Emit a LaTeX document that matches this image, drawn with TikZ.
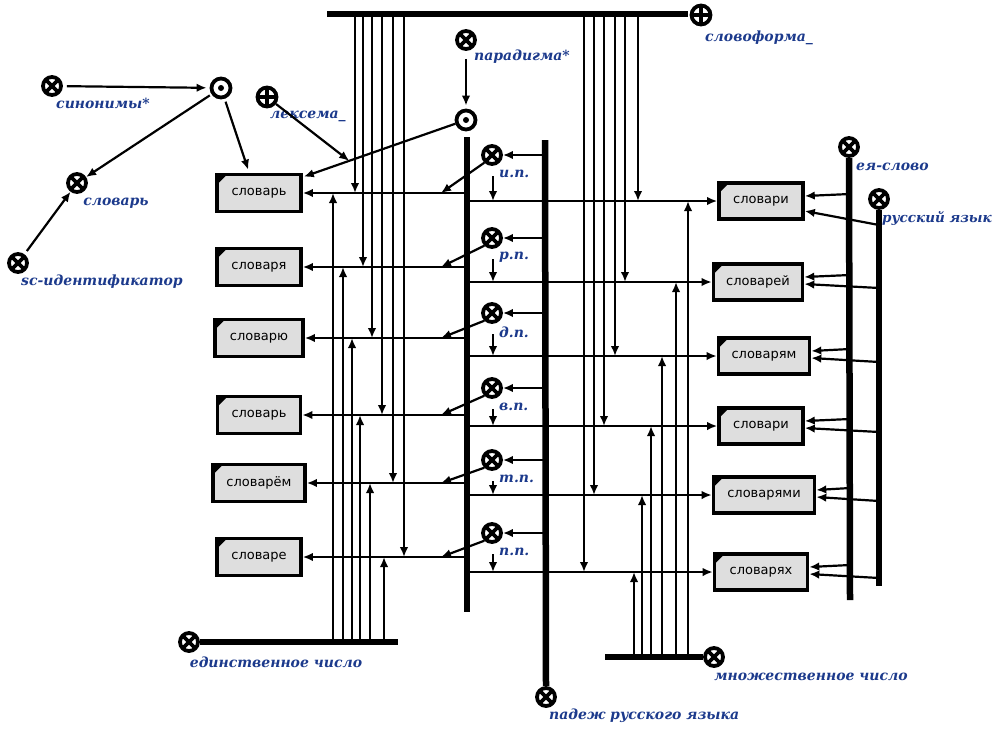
\documentclass[tikz,border=0pt]{standalone}
\usepackage{fontspec}
\setmainfont{DejaVu Sans}
\newfontfamily\lblfont{DejaVu Serif}
\usetikzlibrary{arrows.meta,calc}
\definecolor{lblblue}{RGB}{28,58,140}
\definecolor{boxgray}{RGB}{222,222,222}
\tikzset{
  bar/.style={line width=5.5pt},
  arr/.style={line width=2.2pt,-{Latex[length=10pt,width=8.5pt]}},
  vnode/.style={circle,draw,line width=3.8pt,fill=white,minimum size=18pt,inner sep=0pt,
    path picture={\draw[black,line width=3.6pt] (path picture bounding box.north west)--(path picture bounding box.south east)
      (path picture bounding box.north east)--(path picture bounding box.south west);}},
  dnode/.style={circle,draw,line width=3.8pt,fill=white,minimum size=19pt,inner sep=0pt,
    path picture={\fill[black] (path picture bounding box.center) circle (3pt);}},
  pnode/.style={circle,draw,line width=3.8pt,fill=white,minimum size=19pt,inner sep=0pt,
    path picture={\draw[black,line width=3.2pt] (path picture bounding box.north)--(path picture bounding box.south)
      (path picture bounding box.east)--(path picture bounding box.west);}},
  lbl/.style={text=lblblue,font=\lblfont\bfseries\itshape\fontsize{14}{16}\selectfont,inner sep=0pt},
  wbox/.style={draw,line width=3.6pt,fill=boxgray,inner sep=0pt,font=\fontsize{13}{15}\selectfont,
    path picture={\fill[black] (path picture bounding box.north west) -- ++(10pt,0pt) -- ++(-10pt,-10pt) -- cycle;}}
}
\begin{document}
\begin{tikzpicture}[x=1pt,y=-1pt]
\useasboundingbox (0,0) rectangle (995,729);
% ---------- left cluster
\node[vnode] (syn) at (52,86) {};
\node[lbl] (synl) at (103,103) {синонимы*};
\node[dnode] (dot1) at (221,88) {};
\node[pnode] (lex) at (267,97) {};
\node[lbl,anchor=west] (lexl) at (270,116) {лексема\_};
\node[vnode] (slov) at (77,183) {};
\node[lbl] (slovl) at (116,203) {словарь};
\node[vnode] (scid) at (18,263) {};
\node[lbl] (scidl) at (102,282) {sc-идентификатор};
% ---------- top
\node[vnode] (par) at (466,40) {};
\node[lbl,anchor=west] (parl) at (474,57) {парадигма*};
\node[dnode] (dot2) at (466,120) {};
\node[pnode] (slf) at (701,15) {};
\node[lbl,anchor=west] (slfl) at (705,38) {словоформа\_};
\coordinate (tbL) at (327,14);
\coordinate (tbR) at (688,14);
% ---------- bars
\coordinate (cbT) at (467,137);
\coordinate (cbB) at (467,612);
\coordinate (pbT) at (545,140);
\node[vnode] (pad) at (546,697) {};
\node[lbl,anchor=west] (padl) at (549,716) {падеж русского языка};
\node[vnode] (ed) at (189,642) {};
\node[lbl] (edl) at (276,662) {единственное число};
\coordinate (ebR) at (398,642);
\node[vnode] (mn) at (714,657) {};
\node[lbl] (mnl) at (811,677) {множественное число};
\coordinate (mbL) at (605,657);
\node[vnode] (eya) at (849,147) {};
\node[lbl,anchor=west] (eyal) at (856,167) {ея-слово};
\coordinate (eyaB) at (850,600);
\node[vnode] (rus) at (879,199) {};
\node[lbl,anchor=west,font=\lblfont\bfseries\itshape\fontsize{13.5}{16}\selectfont] (rusl) at (882,218) {русский язык};
\coordinate (rusB) at (879,586);
\draw[bar] (tbL) -- (tbR);
\draw[bar,line width=6.5pt] (cbT) -- (cbB);
\draw[bar,line width=6.5pt] (pbT) -- (pad.north);
\draw[bar] (ed.east) -- (ebR);
\draw[bar] (mbL) -- (mn.west);
\draw[bar,line width=6.5pt] (eya.south) -- (eyaB);
\draw[bar,line width=6pt] (rus.south) -- (rusB);
% ---------- boxes
\foreach \i/\y/\w/\t in {1/193/84/словарь,2/267/84/словаря,3/338/88/словарю,4/415/83/словарь,5/483/92/словарём,6/557/84/словаре}
  \node[wbox,minimum width=\w pt,minimum height=37pt] (S\i) at (259,\y) {\t};
\foreach \i/\x/\y/\w/\t in {1/761/201/84/словари,2/758/282/89/словарей,3/764/356/91/словарям,4/761/426/84/словари,5/764/495/101/словарями,6/761/572/93/словарях}
  \node[wbox,minimum width=\w pt,minimum height=36pt] (P\i) at (\x,\y) {\t};
% ---------- case nodes
\foreach \i/\y/\t in {1/155/и.п.,2/238/р.п.,3/313/д.п.,4/388/в.п.,5/460/т.п.,6/533/п.п.}{
  \node[vnode] (C\i) at (492,\y) {};
  \node[lbl,anchor=west] (C\i l) at (499,\y+19) {\t};
  \coordinate (cd\i) at (493,\y+21);
}
% ---------- row connectors
\foreach \i in {1,...,6}{
  \draw[arr] (S\i.east -| cbT) -- (S\i.east);
  \draw[arr] (P\i.west -| cbT) -- (P\i.west);
  \draw[arr] (C\i -| pbT) -- (C\i.east);
  \draw[arr] (C\i.south west) -- ($(S\i.east -| cbT)+(-26,0)$);
  \draw[arr] (cd\i) -- (cd\i |- P\i.west);
}
% vertical lines from top bar and number bars
\foreach \i/\x in {1/355,2/363,3/372,4/382,5/393,6/404}
  \draw[arr] (\x,0 |- tbL) -- (\x,0 |- S\i.east);
\foreach \i/\x in {1/333,2/343,3/352,4/360,5/370,6/384}
  \draw[arr] (\x,0 |- ebR) -- (\x,0 |- S\i.east);
\foreach \i/\x in {1/638,2/625,3/615,4/604,5/594,6/584}
  \draw[arr] (\x,0 |- tbL) -- (\x,0 |- P\i.west);
\foreach \i/\x in {1/688,2/676,3/662,4/651,5/642,6/634}
  \draw[arr] (\x,0 |- mbL) -- (\x,0 |- P\i.west);
% right side attributes
\foreach \i in {1,...,6}
  \draw[arr] ($(P\i.east -| eyaB)+(0,-7)$) -- ($(P\i.east)+(0,-5)$);
\draw[arr] ($(P1.east -| rusB)+(0,24)$) -- ($(P1.east)+(0,10)$);
\foreach \i in {2,...,6}
  \draw[arr] ($(P\i.east -| rusB)+(0,6)$) -- ($(P\i.east)+(0,2)$);
% ---------- top-left connectors
\coordinate (t1) at ($(S1.north east)+(1,4)$);
\draw[arr,shorten <=4pt,shorten >=3pt] (syn) -- (dot1);
\draw[arr,shorten <=2pt] (dot1) -- (slov);
\draw[arr,shorten <=3pt] (dot1) -- ($(S1.north west)+(33,-3)$);
\draw[arr,shorten <=4pt] (scid) -- (slov);
\draw[arr,shorten <=8pt,shorten >=3pt] (par) -- (dot2);
\draw[arr] (dot2) -- (t1);
\draw[arr] (lex) -- ($(dot2)!0.72!(t1)$);
\end{tikzpicture}
\end{document}
